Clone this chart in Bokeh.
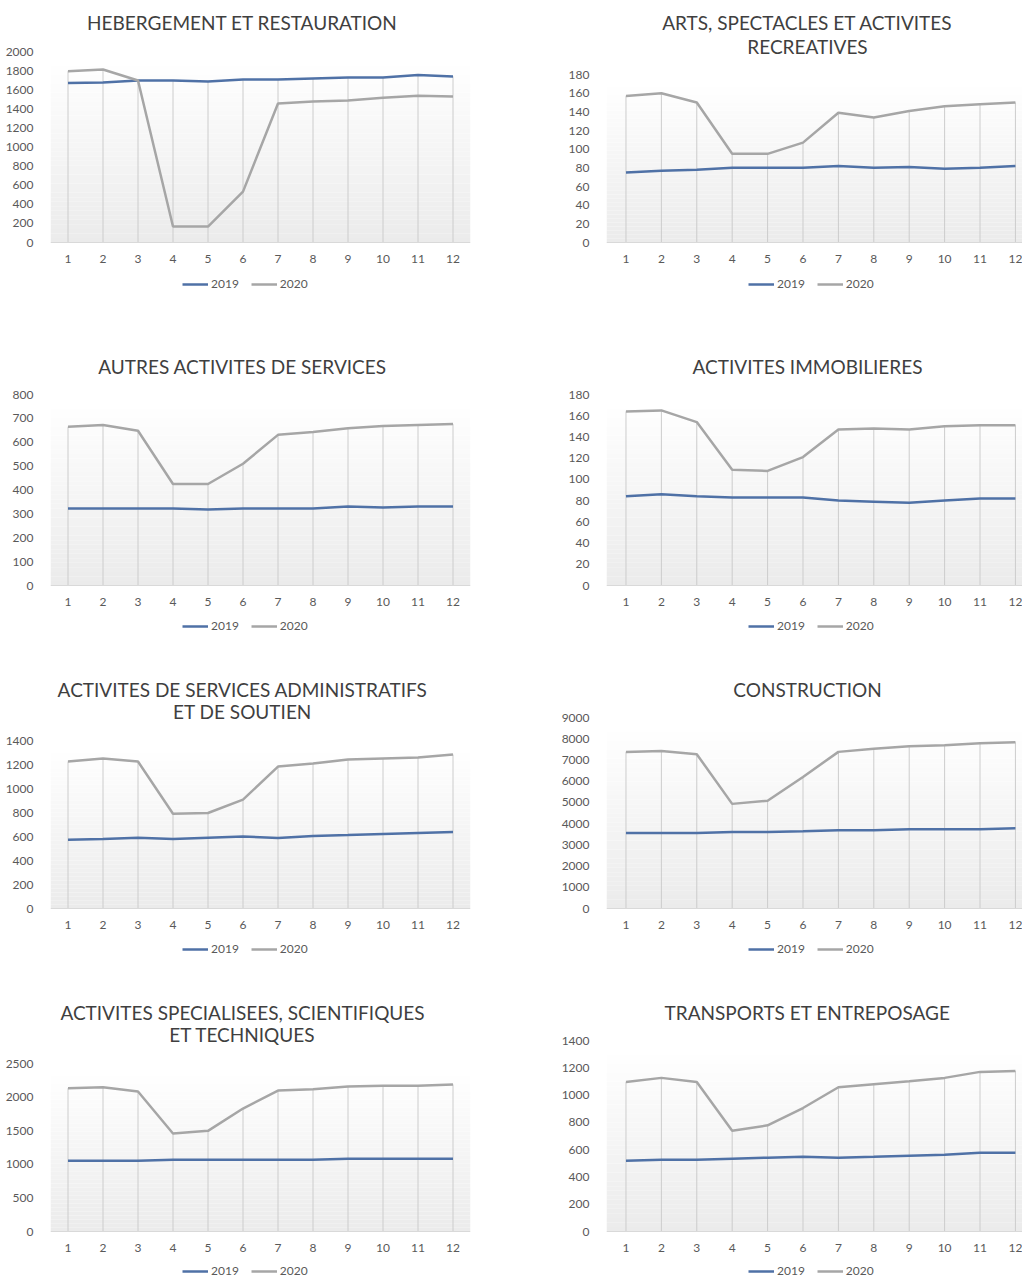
import numpy as np
from bokeh.plotting import figure
from bokeh.models import FixedTicker, Legend, LegendItem, Range1d, Span
from bokeh.core.properties import value
from bokeh.layouts import column, row
from bokeh.embed import file_html
from bokeh.resources import INLINE

months = list(range(1, 13))
month_labels = [str(m) for m in months]
series_names = ["2019", "2020"]

# --- data ---
heb_title = ["HEBERGEMENT ET RESTAURATION"]
heb_2019 = [1669, 1676, 1697, 1697, 1686, 1707, 1707, 1718, 1728, 1728, 1753, 1739]
heb_2020 = [1794, 1812, 1697, 167, 167, 533, 1456, 1477, 1488, 1516, 1537, 1530]

arts_title = ["ARTS, SPECTACLES ET ACTIVITES", "RECREATIVES"]
arts_2019 = [75, 77, 78, 80, 80, 80, 82, 80, 81, 79, 80, 82]
arts_2020 = [157, 160, 150, 95, 95, 107, 139, 134, 141, 146, 148, 150]

autres_title = ["AUTRES ACTIVITES DE SERVICES"]
autres_2019 = [323, 323, 323, 323, 318, 323, 323, 323, 331, 327, 331, 331]
autres_2020 = [665, 672, 648, 425, 425, 510, 631, 643, 659, 668, 672, 676]

immo_title = ["ACTIVITES IMMOBILIERES"]
immo_2019 = [84, 86, 84, 83, 83, 83, 80, 79, 78, 80, 82, 82]
immo_2020 = [164, 165, 154, 109, 108, 121, 147, 148, 147, 150, 151, 151]

admin_title = ["ACTIVITES DE SERVICES ADMINISTRATIFS", "ET DE SOUTIEN"]
admin_2019 = [573, 580, 590, 580, 590, 599, 588, 604, 612, 621, 629, 637]
admin_2020 = [1225, 1250, 1225, 790, 796, 907, 1183, 1208, 1241, 1250, 1258, 1283]

constr_title = ["CONSTRUCTION"]
constr_2019 = [3560, 3560, 3560, 3610, 3610, 3640, 3690, 3690, 3740, 3740, 3740, 3780]
constr_2020 = [7380, 7420, 7270, 4930, 5080, 6200, 7380, 7530, 7650, 7690, 7790, 7830]

spec_title = ["ACTIVITES SPECIALISEES, SCIENTIFIQUES", "ET TECHNIQUES"]
spec_2019 = [1052, 1052, 1052, 1066, 1066, 1066, 1066, 1066, 1081, 1081, 1081, 1081]
spec_2020 = [2133, 2148, 2083, 1458, 1498, 1830, 2098, 2118, 2158, 2168, 2168, 2188]

transp_title = ["TRANSPORTS ET ENTREPOSAGE"]
transp_2019 = [519, 526, 526, 534, 541, 548, 541, 548, 556, 563, 578, 578]
transp_2020 = [1096, 1126, 1096, 739, 778, 905, 1057, 1079, 1101, 1126, 1170, 1177]

# axis maxima and tick steps
heb_axis = (2000, 200)
arts_axis = (180, 20)
autres_axis = (800, 100)
immo_axis = (180, 20)
admin_axis = (1400, 200)
constr_axis = (9000, 1000)
spec_axis = (2500, 500)
transp_axis = (1400, 200)

FONT = "Lato"
C2019 = "#4f71a6"
C2020 = "#a6a6a6"
TXT = "#595959"
TITLE_C = "#3f3f3f"


def make_chart(title_lines, a, b, axis, col, T, H, y_top, y_zero, title_ys, leg_y):
    """T, H: page top and height of the figure; y_top / y_zero: page rows of axis max and 0."""
    ymax, step = axis
    if col == 0:
        fig_left, bl, fw, br, xr = 0, 50, 420, 28, (0.5, 12.5)
        title_cx, leg_cx = 242, 245
    else:
        fig_left, bl, fw, br, xr = 498, 108, 416, 0, (0.45, 12.2)
        title_cx, leg_cx = 807, 811
    frame_left = fig_left + bl
    u = ymax / float(y_zero - y_top)
    y_end = (y_zero - T) * u
    y_start = -(T + H - y_zero) * u
    px_per_x = fw / (xr[1] - xr[0])

    def x_at(px):
        return xr[0] + (px - frame_left) / px_per_x

    def y_at(py):
        return (y_zero - py) * u

    p = figure(frame_width=fw, frame_height=H, x_range=Range1d(*xr), y_range=Range1d(y_start, y_end),
               x_axis_location=None, title=None, output_backend="svg", toolbar_location=None,
               min_border_left=bl, min_border_right=br, min_border_top=0, min_border_bottom=0)
    p.outline_line_color = None
    p.background_fill_color = "white"
    p.border_fill_color = "white"
    p.grid.visible = False
    p.xgrid.visible = False
    p.ygrid.visible = False

    # gradient plot-area background
    n = 40
    edges = np.linspace(0, ymax * 0.95, n + 1)
    cols = []
    for i in range(n):
        t = i / (n - 1)
        g = int(round(235 + (255 - 235) * t))
        cols.append("#%02x%02x%02x" % (g, g, g))
    p.quad(left=xr[0], right=xr[1], bottom=edges[:-1], top=edges[1:], fill_color=cols, line_color=None)

    # baseline (category axis line)
    p.add_layout(Span(location=0, dimension="width", line_color="#d9d9d9", line_width=1))

    # drop lines
    hi = np.maximum(np.array(a), np.array(b))
    p.segment(x0=months, y0=[0] * 12, x1=months, y1=hi, line_color="#cccccc", line_width=1)

    r1 = p.line(months, a, line_color=C2019, line_width=2.5)
    r2 = p.line(months, b, line_color=C2020, line_width=2.5)

    # x tick labels
    p.text(x=months, y=[y_at(y_zero + 16)] * 12, text=month_labels, text_align="center",
           text_baseline="middle", text_font=value(FONT), text_font_size="12px", text_color=TXT)

    # title
    p.text(x=[x_at(title_cx)] * len(title_lines), y=[y_at(ty) for ty in title_ys], text=title_lines,
           text_align="center", text_baseline="middle", text_font=value(FONT),
           text_font_size="19px", text_color=TITLE_C)

    p.yaxis.ticker = FixedTicker(ticks=list(range(0, ymax + 1, step)))
    p.yaxis.axis_line_color = None
    p.yaxis.major_tick_line_color = None
    p.yaxis.minor_tick_line_color = None
    p.yaxis.major_label_standoff = 11
    p.yaxis.major_label_text_font = FONT
    p.yaxis.major_label_text_font_size = "12px"
    p.yaxis.major_label_text_color = TXT

    leg_w = 126
    vx = leg_cx - frame_left - leg_w / 2
    vy = (T + H) - (leg_y + 6)
    legend = Legend(items=[LegendItem(label=series_names[0], renderers=[r1]),
                           LegendItem(label=series_names[1], renderers=[r2])],
                    orientation="horizontal", location=(vx, vy),
                    border_line_color=None, background_fill_alpha=0,
                    glyph_width=26, glyph_height=12, label_height=12,
                    label_standoff=3, spacing=12, margin=0, padding=0,
                    label_text_font=FONT, label_text_font_size="12px", label_text_color=TXT)
    p.add_layout(legend)
    return p


p1 = make_chart(heb_title, heb_2019, heb_2020, heb_axis, 0, 0, 322, 51, 242, [22], 285)
p2 = make_chart(arts_title, arts_2019, arts_2020, arts_axis, 1, 0, 322, 74, 242, [22, 46], 285)
p3 = make_chart(autres_title, autres_2019, autres_2020, autres_axis, 0, 322, 323, 394, 585, [366], 627)
p4 = make_chart(immo_title, immo_2019, immo_2020, immo_axis, 1, 322, 323, 394, 585, [366], 627)
p5 = make_chart(admin_title, admin_2019, admin_2020, admin_axis, 0, 645, 323, 740, 908, [689, 711], 950)
p6 = make_chart(constr_title, constr_2019, constr_2020, constr_axis, 1, 645, 323, 717, 908, [689], 950)
p7 = make_chart(spec_title, spec_2019, spec_2020, spec_axis, 0, 968, 311, 1063, 1231, [1012, 1034], 1272)
p8 = make_chart(transp_title, transp_2019, transp_2020, transp_axis, 1, 968, 311, 1040, 1231, [1012], 1272)

layout = column(row(p1, p2), row(p3, p4), row(p5, p6), row(p7, p8))

open("out.html", "w").write(file_html(layout, INLINE))
